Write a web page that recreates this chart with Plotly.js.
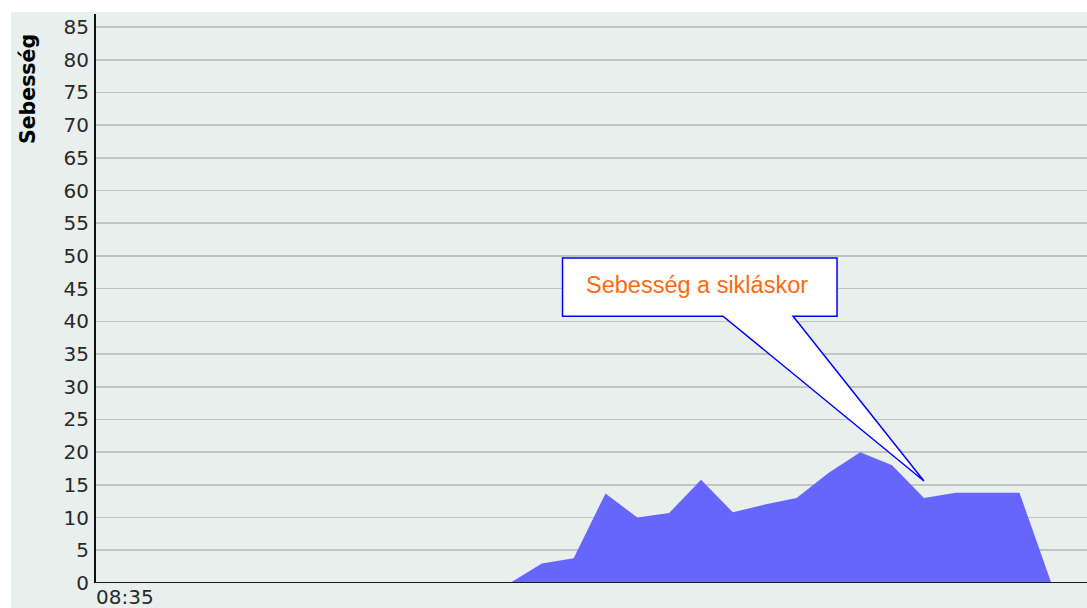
<!DOCTYPE html>
<html>
<head>
<meta charset="utf-8">
<script src="https://cdn.plot.ly/plotly-3.0.1.min.js"></script>
<style>
  html, body { margin: 0; padding: 0; background: #ffffff; }
  #chart { position: absolute; left: 11px; top: 12px; width: 1076px; height: 596px; }
</style>
</head>
<body>
<div id="chart"></div>
<script>
// Sample index (time steps from 08:35)
const sampleIndex = [0,1,2,3,4,5,6,7,8,9,10,11,12,13,14,15,16,17,18,19,20,21,22,23,24,25,26,27,28,29,30,31];
// Speed values (Sebesség)
const speed = [0,0,0,0,0,0,0,0,0,0,0,0,0,0,3,3.8,13.7,10,10.7,15.8,10.8,12,13,16.8,20,18,13,13.8,13.8,13.8,0,0];
const tickLabels = ["08:35"];
const tickPositions = [0];
const yTicks = [0,5,10,15,20,25,30,35,40,45,50,55,60,65,70,75,80,85];
const calloutText = "Sebesség a sikláskor";
const axisTitle = "Sebesség";

const trace = {
  x: sampleIndex,
  y: speed,
  type: 'scatter',
  mode: 'lines',
  fill: 'tozeroy',
  fillcolor: 'rgb(102,102,255)',
  line: { color: 'rgb(102,102,255)', width: 0 },
  hoverinfo: 'x+y'
};

// callout box with pointer (data coordinates)
const bx0 = 14.65, bx1 = 23.27, by0 = 40.8, by1 = 49.7;
const px0 = 19.69, px1 = 21.89, tipX = 26, tipY = 15.6;
const calloutPath = `M ${bx0},${by1} L ${bx1},${by1} L ${bx1},${by0} L ${px1},${by0} L ${tipX},${tipY} L ${px0},${by0} L ${bx0},${by0} Z`;

const layout = {
  width: 1076,
  height: 596,
  margin: { l: 85, r: 0, t: 2, b: 25 },
  paper_bgcolor: '#e8efec',
  plot_bgcolor: '#e8efec',
  showlegend: false,
  font: { family: 'DejaVu Sans, Verdana, sans-serif', size: 18, color: '#2a2a2a' },
  xaxis: {
    range: [0, 31.12],
    tickvals: tickPositions,
    ticktext: tickLabels,
    ticklabelposition: 'outside right',
    ticks: '',
    showgrid: false,
    zeroline: false,
    showline: false,
    tickfont: { family: 'DejaVu Sans, Verdana, sans-serif', size: 20, color: '#2a2a2a' }
  },
  yaxis: {
    range: [0, 87],
    tickvals: yTicks,
    ticks: 'outside',
    ticklen: 1,
    tickcolor: 'rgba(0,0,0,0)',
    showgrid: true,
    gridcolor: '#c0c5c2',
    gridwidth: 1.6,
    zeroline: false,
    showline: true,
    linecolor: '#111111',
    linewidth: 2,
    tickfont: { family: 'DejaVu Sans, Verdana, sans-serif', size: 20, color: '#2a2a2a' }
  },
  shapes: [
    { type: 'line', xref: 'paper', yref: 'y', x0: 0, x1: 1, y0: 0, y1: 0,
      line: { color: '#1a1a2e', width: 2 } },
    { type: 'path', xref: 'x', yref: 'y', path: calloutPath,
      fillcolor: '#ffffff', line: { color: '#0000ff', width: 1.5 } }
  ],
  annotations: [
    { xref: 'x', yref: 'y', x: (bx0 + bx1) / 2 - 0.1, y: (by0 + by1) / 2 + 0.3,
      text: calloutText, showarrow: false,
      font: { family: 'Liberation Sans, Arial, sans-serif', size: 23.5, color: '#ff6a10' } },
    { xref: 'paper', yref: 'paper', x: -68 / 991, y: 0.868, xanchor: 'center', yanchor: 'middle',
      text: '<b>' + axisTitle + '</b>', textangle: -90, showarrow: false,
      font: { family: 'DejaVu Sans, Verdana, sans-serif', size: 20.5, color: '#000000' } }
  ]
};

Plotly.newPlot('chart', [trace], layout, { displayModeBar: false, staticPlot: true });
</script>
</body>
</html>
